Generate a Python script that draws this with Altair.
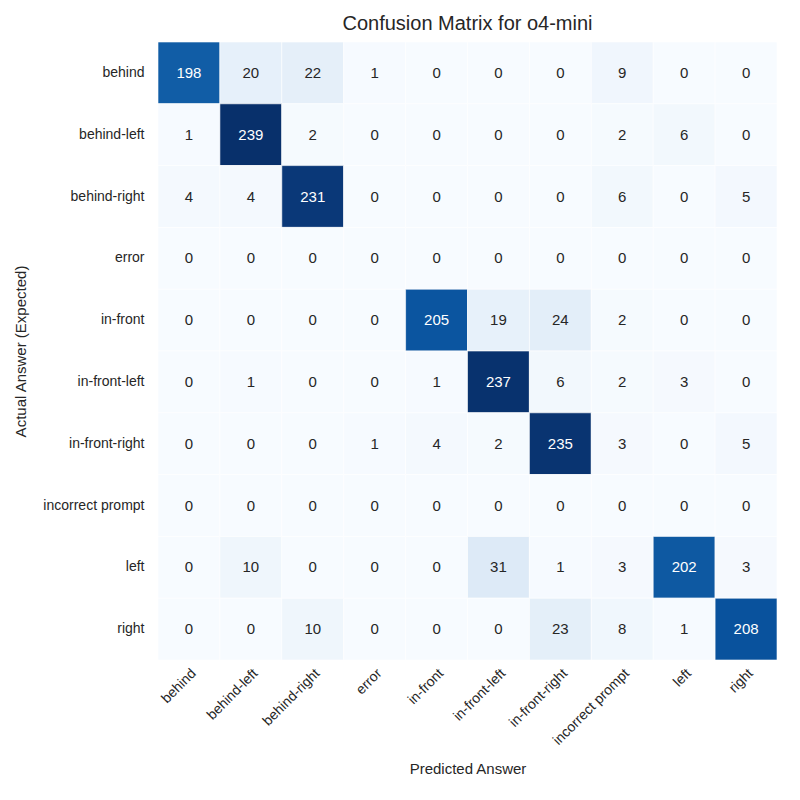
import altair as alt
import pandas as pd

labels = ['behind', 'behind-left', 'behind-right', 'error', 'in-front',
          'in-front-left', 'in-front-right', 'incorrect prompt', 'left', 'right']

matrix = [
    [198, 20, 22, 1, 0, 0, 0, 9, 0, 0],
    [1, 239, 2, 0, 0, 0, 0, 2, 6, 0],
    [4, 4, 231, 0, 0, 0, 0, 6, 0, 5],
    [0, 0, 0, 0, 0, 0, 0, 0, 0, 0],
    [0, 0, 0, 0, 205, 19, 24, 2, 0, 0],
    [0, 1, 0, 0, 1, 237, 6, 2, 3, 0],
    [0, 0, 0, 1, 4, 2, 235, 3, 0, 5],
    [0, 0, 0, 0, 0, 0, 0, 0, 0, 0],
    [0, 10, 0, 0, 0, 31, 1, 3, 202, 3],
    [0, 0, 10, 0, 0, 0, 23, 8, 1, 208],
]

rows = []
for i, actual in enumerate(labels):
    for j, pred in enumerate(labels):
        rows.append({'actual': actual, 'predicted': pred, 'count': matrix[i][j]})
df = pd.DataFrame(rows)

vmax = 239
blues = ['#f7fbff', '#deebf7', '#c6dbef', '#9ecae1', '#6baed6',
         '#4292c6', '#2171b5', '#08519c', '#08306b']
domain = [vmax * k / 8 for k in range(9)]

base = alt.Chart(df).encode(
    x=alt.X('predicted:N', sort=labels, title='Predicted Answer',
            axis=alt.Axis(labelAngle=-45, labelAlign='right', labelBaseline='top',
                          ticks=False, domain=False, labelPadding=6, titlePadding=14)),
    y=alt.Y('actual:N', sort=labels, title='Actual Answer (Expected)',
            axis=alt.Axis(ticks=False, domain=False, labelPadding=14, titlePadding=14)),
)

rect = base.mark_rect(stroke='white', strokeWidth=0.6).encode(
    color=alt.Color('count:Q', scale=alt.Scale(domain=domain, range=blues), legend=None)
)

text = base.mark_text(fontSize=15, font='Liberation Sans').encode(
    text='count:Q',
    color=alt.condition(alt.datum.count > vmax / 2, alt.value('white'), alt.value('#262626'))
)

chart = (rect + text).properties(
    width=619, height=618,
    title=alt.Title('Confusion Matrix for o4-mini', fontSize=20, fontWeight='normal',
                    font='Liberation Sans', color='#262626', offset=8),
).configure_axis(
    labelFont='Liberation Sans', titleFont='Liberation Sans', labelFontSize=14,
    titleFontSize=15, titleFontWeight='normal', labelColor='#262626', titleColor='#262626',
    grid=False,
).configure_view(strokeWidth=0)

chart.save("out.html", embed_options={"renderer": "svg", "actions": False})
